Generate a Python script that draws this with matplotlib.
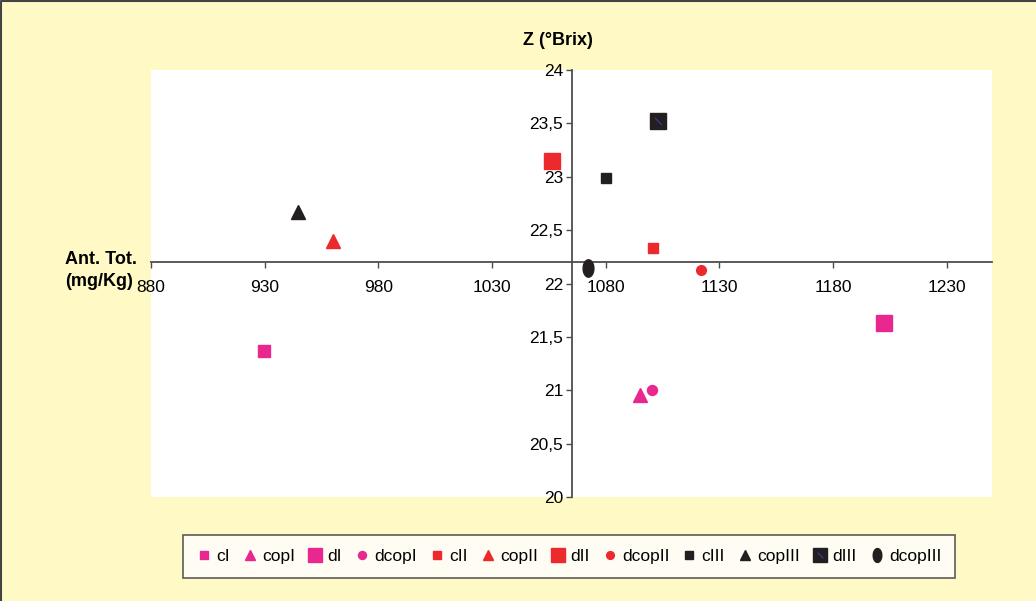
import numpy as np
import matplotlib
matplotlib.use("Agg")
import matplotlib.pyplot as plt
from matplotlib.path import Path
from matplotlib.legend_handler import HandlerTuple

plt.rcParams['font.family'] = ['Liberation Sans', 'DejaVu Sans']

# series data: (Ant. Tot. mg/Kg, Z °Brix)
labels = ["cI", "copI", "dI", "dcopI",
          "cII", "copII", "dII", "dcopII",
          "cIII", "copIII", "dIII", "dcopIII"]
ant_tot = [929.7, 1095.3, 1202.3, 1100.3,
           1100.9, 959.9, 1056.3, 1121.8,
           1080.2, 944.8, 1103.2, 1072.1]
brix = [21.37, 20.96, 21.63, 21.00,
        22.33, 22.40, 23.15, 22.13,
        22.99, 22.67, 23.52, 22.15]

xticks = [880, 930, 980, 1030, 1080, 1130, 1180, 1230]
yticks = [20, 20.5, 21, 21.5, 22, 22.5, 23, 23.5, 24]
ytick_labels = ["20", "20,5", "21", "21,5", "22", "22,5", "23", "23,5", "24"]

pink = "#E8288F"
red = "#EC2A2D"
black = "#231F20"
bg = "#FFF9C6"

# vertical ellipse marker used for dcopIII
t = np.linspace(0, 2 * np.pi, 40)
ellipse = Path(np.column_stack([0.62 * np.cos(t), np.sin(t)]), closed=True)

styles = [
    (pink, "s", 8), (pink, "^", 9.5), (pink, "s", 12), (pink, "o", 7.2),
    (red, "s", 7.5), (red, "^", 9.5), (red, "s", 12), (red, "o", 7),
    (black, "s", 7.5), (black, "^", 9.5), (black, "s", 12), (black, ellipse, 12.5),
]


def main():
    fig = plt.figure(figsize=(10.36, 6.01), dpi=100)
    fig.patch.set_facecolor(bg)
    ax = fig.add_axes([0.1458, 0.173, 0.8117, 0.7105])
    ax.set_facecolor("white")

    handles = []
    for i, (color, marker, ms) in enumerate(styles):
        h, = ax.plot(ant_tot[i], brix[i], linestyle="none", marker=marker,
                     markersize=ms, color=color, markeredgecolor=color,
                     zorder=3)
        if labels[i] == "dIII":
            # small blue stroke inside the dIII marker
            s, = ax.plot(ant_tot[i], brix[i], linestyle="none",
                         marker=[(-1, 1), (1, -1)], markersize=5,
                         markeredgewidth=0.8, color="#3A3AA8", zorder=4)
            h = (h, s)
        handles.append(h)

    ax.set_xlim(880, 1250)
    ax.set_ylim(20, 24)

    for side in ["top", "right"]:
        ax.spines[side].set_visible(False)
    ax.spines["left"].set_position(("data", 1065))
    ax.spines["bottom"].set_position(("data", 22.2))
    for side in ["left", "bottom"]:
        ax.spines[side].set_color("#4D4D4D")
        ax.spines[side].set_linewidth(1.3)

    ax.set_xticks(xticks)
    ax.set_xticklabels([str(v) for v in xticks])
    ax.set_yticks(yticks)
    ax.set_yticklabels(ytick_labels)
    ax.tick_params(axis="both", direction="out", length=4, width=1,
                   color="#4D4D4D", labelsize=12.5, pad=2)
    ax.tick_params(axis="x", pad=9)

    fig.text(0.539, 0.932, "Z (°Brix)", ha="center", va="center",
             fontsize=13, fontweight="bold")
    fig.text(0.063, 0.550, "Ant. Tot.\n(mg/Kg)", ha="left", va="center",
             fontsize=13, fontweight="bold", linespacing=1.45,
             multialignment="left")

    leg = fig.legend(handles, labels, loc="center",
                     bbox_to_anchor=(0.5494, 0.0735), ncol=12,
                     fontsize=12.5, frameon=True, fancybox=False,
                     handlelength=0.8, handletextpad=0.3, columnspacing=0.76,
                     borderpad=0.8, borderaxespad=0, markerscale=0.8,
                     handler_map={tuple: HandlerTuple(ndivide=1)})
    leg.get_frame().set_edgecolor("#333333")
    leg.get_frame().set_linewidth(1.2)

    # chart border is only visible on the top and left edges
    fig.add_artist(plt.Line2D([0.001, 0.001, 1.0], [0.0, 0.998, 0.998],
                              transform=fig.transFigure,
                              color="#444444", linewidth=1.5))

    fig.savefig("out.png", dpi=100, facecolor=fig.get_facecolor())


if __name__ == "__main__":
    main()
